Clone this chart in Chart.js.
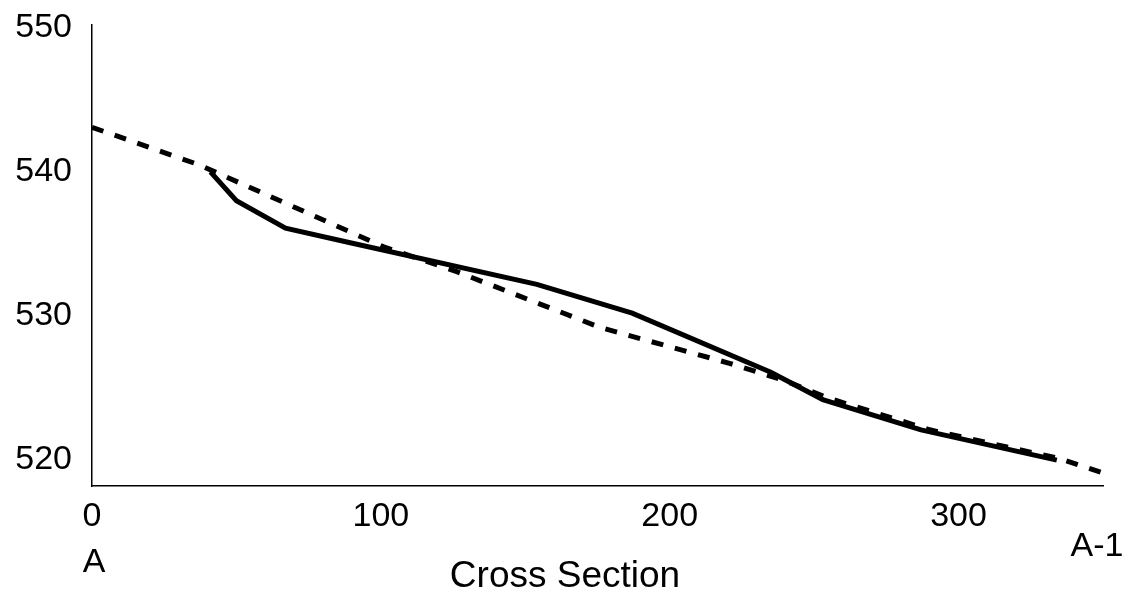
<!DOCTYPE html>
<html>
<head>
<meta charset="utf-8">
<script src="https://cdn.jsdelivr.net/npm/chart.js@4"></script>
<style>
  body { margin: 0; background: #fff; }
  #wrap { width: 1134px; height: 594px; }
</style>
</head>
<body>
<div id="wrap"><canvas id="myChart"></canvas></div>
<script>
// Values
var solidX = [41, 50, 67, 89, 154, 187, 235, 253, 287, 334];
var solidY = [540, 538, 536.1, 535.1, 532.2, 530.2, 526.1, 524.2, 522.1, 520];

var dashX = [0, 37, 101, 126, 176, 221, 240, 255, 290, 335, 350];
var dashY = [543.1, 540.5, 534.8, 533.1, 529.2, 526.7, 525.5, 524.3, 522.1, 520.1, 519.1];

var xTicks = [0, 100, 200, 300];
var yTicks = [520, 530, 540, 550];

var fontFamily = '"Liberation Sans", Arial, sans-serif';

function toPoints(xs, ys) {
  var pts = [];
  for (var i = 0; i < xs.length; i++) {
    pts.push({ x: xs[i], y: ys[i] });
  }
  return pts;
}

// end labels and the axis title are drawn by hand, the title sits left of centre
var sectionLabels = {
  id: 'sectionLabels',
  afterDraw: function(chart) {
    var ctx = chart.ctx;
    var xs = chart.scales.x;
    var bottom = chart.chartArea.bottom;
    ctx.save();
    ctx.fillStyle = '#000';
    ctx.textAlign = 'center';
    ctx.textBaseline = 'middle';
    ctx.font = '34px ' + fontFamily;
    ctx.fillText('A', xs.getPixelForValue(0) + 2, bottom + 77);
    ctx.fillText('A-1', xs.right - 6, bottom + 61);
    ctx.font = '37px ' + fontFamily;
    ctx.fillText('Cross Section', xs.left + 473, bottom + 91);
    ctx.restore();
  }
};

var ctx = document.getElementById('myChart');
var myChart = new Chart(ctx, {
  type: 'line',
  data: {
    datasets: [{
      data: toPoints(dashX, dashY),
      borderColor: '#000',
      borderWidth: 5,
      borderDash: [12, 12],
      pointRadius: 0,
      tension: 0
    }, {
      data: toPoints(solidX, solidY),
      borderColor: '#000',
      borderWidth: 5,
      pointRadius: 0,
      tension: 0
    }]
  },
  options: {
    responsive: true,
    maintainAspectRatio: false,
    animation: false,
    layout: { padding: { top: 25, right: 31, left: 0, bottom: 0 } },
    plugins: { legend: { display: false }, tooltip: { enabled: false } },
    scales: {
      x: {
        type: 'linear',
        min: 0,
        max: 350,
        grid: { display: false, drawTicks: false },
        border: { display: true, color: '#000', width: 1.5 },
        ticks: { color: '#000', font: { family: fontFamily, size: 34 }, padding: 10 },
        afterBuildTicks: function(scale) {
          scale.ticks = xTicks.map(function(v) { return { value: v }; });
        },
        afterFit: function(scale) {
          scale.height = 108;
          scale.paddingLeft = 0;
          scale.paddingRight = 0;
        }
      },
      y: {
        min: 518.2,
        max: 550.2,
        grid: { display: false, drawTicks: false },
        border: { display: true, color: '#000', width: 1.5 },
        ticks: { color: '#000', font: { family: fontFamily, size: 34 }, padding: 20 },
        afterBuildTicks: function(scale) {
          scale.ticks = yTicks.map(function(v) { return { value: v }; });
        },
        afterFit: function(scale) {
          scale.width = 92;
          scale.paddingTop = 0;
          scale.paddingBottom = 0;
        }
      }
    }
  },
  plugins: [sectionLabels]
});
</script>
</body>
</html>
